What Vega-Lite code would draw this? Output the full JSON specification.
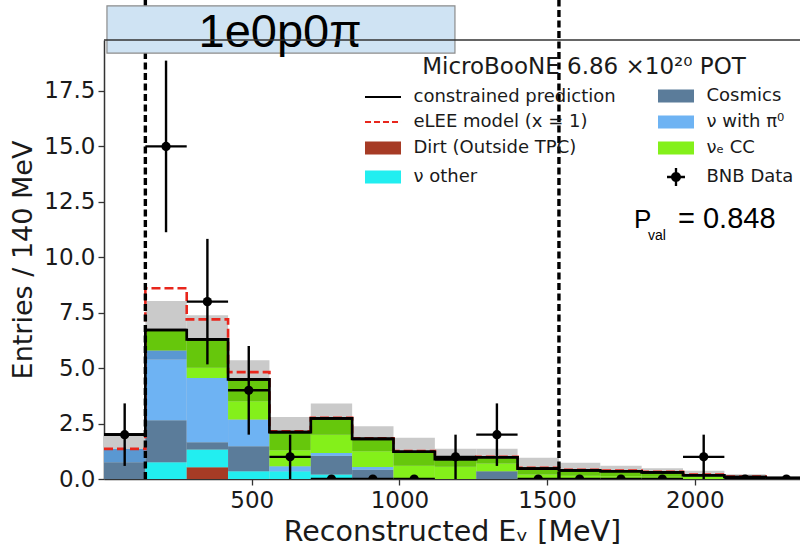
{
  "$schema": "https://vega.github.io/schema/vega-lite/v6.json",
  "width": 696,
  "height": 439,
  "autosize": {"type": "none"},
  "padding": {"left": 104, "top": 40, "right": 0, "bottom": 70},
  "background": "white",
  "config": {
    "font": "DejaVu Sans",
    "view": {"stroke": null},
    "scale": {"continuousPadding": 0},
    "axis": {
      "grid": false,
      "domainColor": "#333333",
      "domainWidth": 1.5,
      "tickColor": "#333333",
      "tickWidth": 1.3,
      "tickSize": 6,
      "labelColor": "#1a1a1a",
      "labelFont": "DejaVu Sans",
      "labelFontSize": 23,
      "titleColor": "#1a1a1a",
      "titleFont": "DejaVu Sans",
      "titleFontSize": 27,
      "titleFontWeight": "normal",
      "zindex": 1
    }
  },
  "datasets": {
    "bins": [
      {"lo": 0, "hi": 140, "mid": 70, "pred": 2.0, "elee": 1.36, "band": 1.98, "data": 2, "data_lo": 0.59, "data_hi": 3.41},
      {"lo": 140, "hi": 280, "mid": 210, "pred": 6.72, "elee": 8.6, "band": 8.03, "data": 15, "data_lo": 11.13, "data_hi": 18.87},
      {"lo": 280, "hi": 420, "mid": 350, "pred": 6.3, "elee": 7.2, "band": 7.39, "data": 8, "data_lo": 5.17, "data_hi": 10.83},
      {"lo": 420, "hi": 560, "mid": 490, "pred": 4.49, "elee": 4.82, "band": 5.36, "data": 4, "data_lo": 2.0, "data_hi": 6.0},
      {"lo": 560, "hi": 700, "mid": 630, "pred": 2.11, "elee": 2.15, "band": 2.8, "data": 1, "data_lo": 0, "data_hi": 2},
      {"lo": 700, "hi": 840, "mid": 770, "pred": 2.73, "elee": 2.76, "band": 3.4, "data": 0, "data_lo": 0, "data_hi": 0},
      {"lo": 840, "hi": 980, "mid": 910, "pred": 1.81, "elee": 1.84, "band": 2.38, "data": 0, "data_lo": 0, "data_hi": 0},
      {"lo": 980, "hi": 1120, "mid": 1050, "pred": 1.23, "elee": 1.26, "band": 1.86, "data": 0, "data_lo": 0, "data_hi": 0},
      {"lo": 1120, "hi": 1260, "mid": 1190, "pred": 0.9, "elee": 0.93, "band": 1.36, "data": 1, "data_lo": 0, "data_hi": 2},
      {"lo": 1260, "hi": 1400, "mid": 1330, "pred": 0.98, "elee": 1.0, "band": 1.36, "data": 2, "data_lo": 0.59, "data_hi": 3.41},
      {"lo": 1400, "hi": 1540, "mid": 1470, "pred": 0.47, "elee": 0.5, "band": 0.96, "data": 0, "data_lo": 0, "data_hi": 0},
      {"lo": 1540, "hi": 1680, "mid": 1610, "pred": 0.39, "elee": 0.42, "band": 0.73, "data": 0, "data_lo": 0, "data_hi": 0},
      {"lo": 1680, "hi": 1820, "mid": 1750, "pred": 0.35, "elee": 0.38, "band": 0.6, "data": 0, "data_lo": 0, "data_hi": 0},
      {"lo": 1820, "hi": 1960, "mid": 1890, "pred": 0.3, "elee": 0.33, "band": 0.48, "data": 0, "data_lo": 0, "data_hi": 0},
      {"lo": 1960, "hi": 2100, "mid": 2030, "pred": 0.17, "elee": 0.2, "band": 0.37, "data": 1, "data_lo": 0, "data_hi": 2},
      {"lo": 2100, "hi": 2240, "mid": 2170, "pred": 0.09, "elee": 0.11, "band": 0.21, "data": 0, "data_lo": 0, "data_hi": 0},
      {"lo": 2240, "hi": 2380, "mid": 2310, "pred": 0.05, "elee": 0.06, "band": 0.12, "data": 0, "data_lo": 0, "data_hi": 0}
    ],
    "components": [
      {"lo": 0, "hi": 140, "cat": "Cosmics", "n": 0.75},
      {"lo": 0, "hi": 140, "cat": "νμ CC", "n": 0.6},
      {"lo": 140, "hi": 280, "cat": "ν other", "n": 0.75},
      {"lo": 140, "hi": 280, "cat": "Cosmics", "n": 1.9},
      {"lo": 140, "hi": 280, "cat": "ν with π⁰", "n": 2.74},
      {"lo": 140, "hi": 280, "cat": "νμ CC", "n": 0.41},
      {"lo": 140, "hi": 280, "cat": "νₑ CC other", "n": 0.92},
      {"lo": 280, "hi": 420, "cat": "Dirt (Outside TPC)", "n": 0.53},
      {"lo": 280, "hi": 420, "cat": "ν other", "n": 0.8},
      {"lo": 280, "hi": 420, "cat": "Cosmics", "n": 0.33},
      {"lo": 280, "hi": 420, "cat": "ν with π⁰", "n": 2.9},
      {"lo": 280, "hi": 420, "cat": "νₑ CC", "n": 0.46},
      {"lo": 280, "hi": 420, "cat": "νₑ CC other", "n": 1.28},
      {"lo": 420, "hi": 560, "cat": "ν other", "n": 0.35},
      {"lo": 420, "hi": 560, "cat": "Cosmics", "n": 1.13},
      {"lo": 420, "hi": 560, "cat": "ν with π⁰", "n": 1.2},
      {"lo": 420, "hi": 560, "cat": "νₑ CC", "n": 0.83},
      {"lo": 420, "hi": 560, "cat": "νₑ CC other", "n": 0.98},
      {"lo": 560, "hi": 700, "cat": "ν other", "n": 0.35},
      {"lo": 560, "hi": 700, "cat": "ν with π⁰", "n": 0.22},
      {"lo": 560, "hi": 700, "cat": "νₑ CC", "n": 0.73},
      {"lo": 560, "hi": 700, "cat": "νₑ CC other", "n": 0.81},
      {"lo": 700, "hi": 840, "cat": "ν other", "n": 0.2},
      {"lo": 700, "hi": 840, "cat": "Cosmics", "n": 0.85},
      {"lo": 700, "hi": 840, "cat": "ν with π⁰", "n": 0.12},
      {"lo": 700, "hi": 840, "cat": "νₑ CC", "n": 0.83},
      {"lo": 700, "hi": 840, "cat": "νₑ CC other", "n": 0.73},
      {"lo": 840, "hi": 980, "cat": "Cosmics", "n": 0.42},
      {"lo": 840, "hi": 980, "cat": "ν with π⁰", "n": 0.12},
      {"lo": 840, "hi": 980, "cat": "νₑ CC", "n": 0.71},
      {"lo": 840, "hi": 980, "cat": "νₑ CC other", "n": 0.56},
      {"lo": 980, "hi": 1120, "cat": "νₑ CC", "n": 0.6},
      {"lo": 980, "hi": 1120, "cat": "νₑ CC other", "n": 0.63},
      {"lo": 1120, "hi": 1260, "cat": "νₑ CC", "n": 0.55},
      {"lo": 1120, "hi": 1260, "cat": "νₑ CC other", "n": 0.35},
      {"lo": 1260, "hi": 1400, "cat": "Cosmics", "n": 0.35},
      {"lo": 1260, "hi": 1400, "cat": "νₑ CC", "n": 0.35},
      {"lo": 1260, "hi": 1400, "cat": "νₑ CC other", "n": 0.28},
      {"lo": 1400, "hi": 1540, "cat": "νₑ CC", "n": 0.2},
      {"lo": 1400, "hi": 1540, "cat": "νₑ CC other", "n": 0.27},
      {"lo": 1540, "hi": 1680, "cat": "νₑ CC", "n": 0.15},
      {"lo": 1540, "hi": 1680, "cat": "νₑ CC other", "n": 0.24},
      {"lo": 1680, "hi": 1820, "cat": "νₑ CC", "n": 0.12},
      {"lo": 1680, "hi": 1820, "cat": "νₑ CC other", "n": 0.23},
      {"lo": 1820, "hi": 1960, "cat": "νₑ CC", "n": 0.1},
      {"lo": 1820, "hi": 1960, "cat": "νₑ CC other", "n": 0.2},
      {"lo": 1960, "hi": 2100, "cat": "νₑ CC", "n": 0.1},
      {"lo": 1960, "hi": 2100, "cat": "νₑ CC other", "n": 0.07},
      {"lo": 2100, "hi": 2240, "cat": "νₑ CC other", "n": 0.09},
      {"lo": 2240, "hi": 2380, "cat": "νₑ CC other", "n": 0.05}
    ],
    "stack_order": [
      {"cat": "Dirt (Outside TPC)", "rank": 1},
      {"cat": "ν other", "rank": 2},
      {"cat": "Cosmics", "rank": 3},
      {"cat": "ν with π⁰", "rank": 4},
      {"cat": "νμ CC", "rank": 5},
      {"cat": "νₑ CC", "rank": 6},
      {"cat": "νₑ CC other", "rank": 7}
    ],
    "cuts": [{"E": 140}, {"E": 1540}]
  },
  "layer": [
    {
      "data": {"name": "bins"},
      "mark": {"type": "bar", "orient": "vertical", "clip": true, "color": "#cacaca"},
      "encoding": {
        "x": {
          "field": "lo", "type": "quantitative",
          "scale": {"domain": [0, 2356], "nice": false, "zero": false, "padding": 0},
          "axis": {"orient": "bottom", "values": [500, 1000, 1500, 2000], "format": "d", "title": "Reconstructed Eᵥ [MeV]", "titleFontSize": 28.5, "labelPadding": 4, "titlePadding": 5}
        },
        "x2": {"field": "hi"},
        "y": {
          "field": "band", "type": "quantitative",
          "scale": {"domain": [0, 19.8], "nice": false, "padding": 0},
          "axis": {"values": [0, 2.5, 5, 7.5, 10, 12.5, 15, 17.5], "format": ".1f", "title": "Entries / 140 MeV", "labelPadding": 3, "titlePadding": 6}
        },
        "y2": {"datum": 0}
      }
    },
    {
      "data": {"name": "components"},
      "transform": [
        {"lookup": "cat", "from": {"data": {"name": "stack_order"}, "key": "cat", "fields": ["rank"]}}
      ],
      "mark": {"type": "bar", "orient": "vertical", "clip": true},
      "encoding": {
        "x": {"field": "lo", "type": "quantitative"},
        "x2": {"field": "hi"},
        "y": {"field": "n", "type": "quantitative", "stack": "zero"},
        "order": {"field": "rank", "type": "quantitative", "sort": "ascending"},
        "color": {
          "field": "cat", "type": "nominal",
          "scale": {
            "domain": ["constrained prediction", "eLEE model (x = 1)", "Dirt (Outside TPC)", "ν other", "Cosmics", "ν with π⁰", "νₑ CC", "BNB Data", "νμ CC", "νₑ CC other"],
            "range": ["#000000", "#e8261c", "#a63b25", "#22eef0", "#5b7c9a", "#6eb3f3", "#84f01a", "#000000", "#5a98d2", "#66c70c"]
          },
          "legend": {
            "values": ["constrained prediction", "eLEE model (x = 1)", "Dirt (Outside TPC)", "ν other", "Cosmics", "ν with π⁰", "νₑ CC", "BNB Data"],
            "orient": "none",
            "legendX": 270,
            "legendY": 16,
            "columns": 2,
            "gridAlign": "each",
            "columnPadding": 37,
            "rowPadding": 4,
            "title": "MicroBooNE 6.86 ×10²⁰ POT",
            "titleLimit": 600,
            "titleFont": "DejaVu Sans",
            "titleFontSize": 23,
            "titleFontWeight": "normal",
            "titleColor": "#1a1a1a",
            "titleAnchor": "middle",
            "titlePadding": 8,
            "labelFont": "DejaVu Sans",
            "labelFontSize": 18,
            "labelColor": "#1a1a1a",
            "labelLimit": 300,
            "labelOffset": 21.5,
            "symbolSize": 169,
            "encode": {
              "symbols": {
                "update": {
                  "shape": [
                    {"test": "datum.value === 'constrained prediction' || datum.value === 'eLEE model (x = 1)'", "value": "M-2.77,0H2.77"},
                    {"test": "datum.value === 'BNB Data'", "value": "M-1.38,-0.18H1.38V0.18H-1.38Z M-0.18,-1.38H0.18V1.38H-0.18Z M0.77,0A0.77,0.77 0 1,1 -0.77,0A0.77,0.77 0 1,1 0.77,0Z"},
                    {"value": "M-2.77,-1H2.77V1H-2.77Z"}
                  ],
                  "fill": [
                    {"test": "datum.value === 'constrained prediction' || datum.value === 'eLEE model (x = 1)'", "value": "transparent"},
                    {"scale": "color", "field": "value"}
                  ],
                  "stroke": [
                    {"test": "datum.value === 'constrained prediction' || datum.value === 'eLEE model (x = 1)'", "scale": "color", "field": "value"},
                    {"value": "transparent"}
                  ],
                  "strokeWidth": {"value": 2.2},
                  "strokeDash": [
                    {"test": "datum.value === 'eLEE model (x = 1)'", "value": [6, 3]},
                    {"value": []}
                  ],
                  "opacity": {"value": 1}
                }
              }
            }
          }
        }
      }
    },
    {
      "data": {"name": "bins"},
      "mark": {"type": "line", "interpolate": "step-after", "clip": true, "color": "#e8261c", "strokeWidth": 2.6, "strokeDash": [9, 4]},
      "encoding": {
        "x": {"field": "lo", "type": "quantitative"},
        "y": {"field": "elee", "type": "quantitative"}
      }
    },
    {
      "data": {"name": "bins"},
      "mark": {"type": "line", "interpolate": "step-after", "clip": true, "color": "#000000", "strokeWidth": 2.7},
      "encoding": {
        "x": {"field": "lo", "type": "quantitative"},
        "y": {"field": "pred", "type": "quantitative"}
      }
    },
    {
      "data": {"name": "bins"},
      "mark": {"type": "rule", "clip": true, "color": "#000000", "strokeWidth": 2.7},
      "encoding": {
        "x": {"field": "lo", "type": "quantitative"},
        "x2": {"field": "hi"},
        "y": {"field": "pred", "type": "quantitative"}
      }
    },
    {
      "data": {"name": "cuts"},
      "mark": {"type": "rule", "color": "#000000", "strokeWidth": 3.4, "strokeDash": [7, 3.5]},
      "encoding": {
        "x": {"field": "E", "type": "quantitative"},
        "y": {"datum": 0, "type": "quantitative"},
        "y2": {"datum": 21.6}
      }
    },
    {
      "data": {"name": "bins"},
      "mark": {"type": "rule", "clip": true, "color": "#000000", "strokeWidth": 2.4},
      "encoding": {
        "x": {"field": "mid", "type": "quantitative"},
        "y": {"field": "data_lo", "type": "quantitative"},
        "y2": {"field": "data_hi"}
      }
    },
    {
      "data": {"name": "bins"},
      "mark": {"type": "rule", "clip": true, "color": "#000000", "strokeWidth": 2.4},
      "encoding": {
        "x": {"field": "lo", "type": "quantitative"},
        "x2": {"field": "hi"},
        "y": {"field": "data", "type": "quantitative"}
      }
    },
    {
      "data": {"name": "bins"},
      "mark": {"type": "circle", "clip": true, "color": "#000000", "opacity": 1, "size": 85},
      "encoding": {
        "x": {"field": "mid", "type": "quantitative"},
        "y": {"field": "data", "type": "quantitative"}
      }
    },
    {
      "data": {"values": [{}]},
      "mark": {"type": "rect", "fill": "#cfe3f3", "stroke": "#8c8c8c", "strokeWidth": 1.2},
      "encoding": {
        "x": {"datum": 10, "type": "quantitative"},
        "x2": {"datum": 1188},
        "y": {"datum": 19.21, "type": "quantitative"},
        "y2": {"datum": 21.34}
      }
    },
    {
      "data": {"values": [{}]},
      "mark": {"type": "text", "text": "1e0p0π", "font": "Liberation Sans", "fontSize": 47, "align": "center", "baseline": "alphabetic", "color": "#000000"},
      "encoding": {
        "x": {"datum": 596, "type": "quantitative"},
        "y": {"datum": 19.49, "type": "quantitative"}
      }
    },
    {
      "data": {"values": [{}]},
      "mark": {"type": "text", "text": "P", "font": "Liberation Sans", "fontSize": 26, "align": "left", "baseline": "alphabetic", "color": "#000000"},
      "encoding": {
        "x": {"datum": 1794, "type": "quantitative"},
        "y": {"datum": 11.32, "type": "quantitative"}
      }
    },
    {
      "data": {"values": [{}]},
      "mark": {"type": "text", "text": "val", "font": "Liberation Sans", "fontSize": 14, "align": "left", "baseline": "alphabetic", "dx": 14, "dy": 12, "color": "#000000"},
      "encoding": {
        "x": {"datum": 1794, "type": "quantitative"},
        "y": {"datum": 11.32, "type": "quantitative"}
      }
    },
    {
      "data": {"values": [{}]},
      "mark": {"type": "text", "text": "= 0.848", "font": "Liberation Sans", "fontSize": 29, "align": "left", "baseline": "alphabetic", "dx": 44, "color": "#000000"},
      "encoding": {
        "x": {"datum": 1794, "type": "quantitative"},
        "y": {"datum": 11.32, "type": "quantitative"}
      }
    },
    {
      "data": {"values": [{}]},
      "mark": {"type": "rule", "color": "#333333", "strokeWidth": 1.5},
      "encoding": {
        "x": {"datum": 0, "type": "quantitative"},
        "x2": {"datum": 2356},
        "y": {"datum": 19.8, "type": "quantitative"}
      }
    }
  ]
}
